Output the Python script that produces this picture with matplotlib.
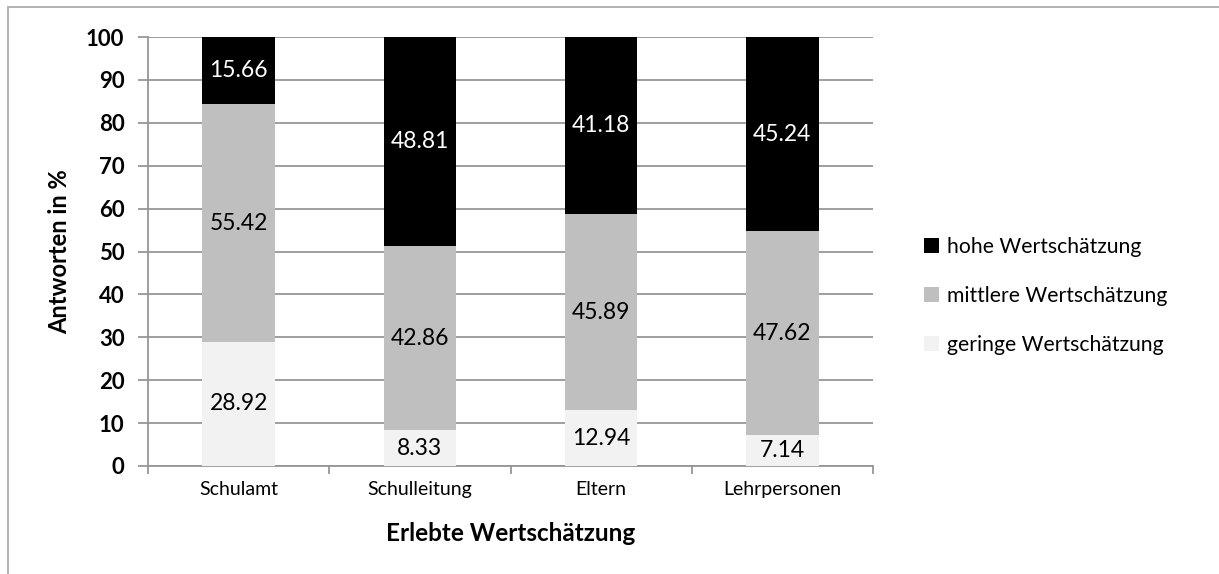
import numpy as np
import matplotlib
matplotlib.use("Agg")
import matplotlib.pyplot as plt
from matplotlib.patches import Rectangle

categories = ["Schulamt", "Schulleitung", "Eltern", "Lehrpersonen"]
gering = [28.92, 8.33, 12.94, 7.14]
mittel = [55.42, 42.86, 45.89, 47.62]
hoch = [15.66, 48.81, 41.18, 45.24]
series_names = ["geringe Wertschätzung", "mittlere Wertschätzung", "hohe Wertschätzung"]
yticks = [0, 10, 20, 30, 40, 50, 60, 70, 80, 90, 100]

plt.rcParams["font.family"] = ["Lato", "DejaVu Sans"]

W, H = 1219, 574
fig = plt.figure(figsize=(W / 100, H / 100), dpi=100)
ax = fig.add_axes([148 / W, 1 - 466 / H, (873 - 148) / W, (466 - 37) / H])

# outer chart frame (only top and left edges are visible in the crop)
fig.patches.append(Rectangle((8 / W, -0.2), 1.5, 1.2 - 7 / H, transform=fig.transFigure,
                             fill=False, edgecolor="#ababab", linewidth=1.3))

x = np.arange(len(categories))
colors = ["#f2f2f2", "#bfbfbf", "#000000"]
text_colors = ["black", "black", "white"]
width = 0.40

bottom = np.zeros(len(categories))
handles = []
for vals, name, c, tc in zip([gering, mittel, hoch], series_names, colors, text_colors):
    vals = np.array(vals)
    b = ax.bar(x, vals, width, bottom=bottom, color=c, label=name, zorder=3)
    handles.append(b)
    for xi, v, b0 in zip(x, vals, bottom):
        ax.text(xi, b0 + v / 2, f"{v:.2f}", ha="center", va="center",
                color=tc, fontsize=16.5, zorder=4)
    bottom = bottom + vals

ax.set_xlim(-0.5, len(categories) - 0.5)
ax.set_ylim(0, 100)
ax.set_yticks(yticks)
ax.set_yticklabels([str(t) for t in yticks], fontsize=16, fontweight="bold")
ax.set_xticks(x)
ax.set_xticklabels(categories, fontsize=14)
ax.set_xticks(np.arange(-0.5, len(categories), 1.0), minor=True)
ax.tick_params(axis="x", which="major", length=0, pad=11)
ax.tick_params(axis="x", which="minor", length=6, width=1.3, color="#969696")
ax.tick_params(axis="y", length=7, width=1.3, color="#969696", pad=10)

ax.yaxis.grid(True, color="#969696", linewidth=1.3, zorder=0)
ax.set_axisbelow(True)
for s in ["top", "right"]:
    ax.spines[s].set_visible(False)
for s in ["left", "bottom"]:
    ax.spines[s].set_color("#969696")
    ax.spines[s].set_linewidth(1.3)

ax.set_ylabel("Antworten in %", fontsize=17, fontweight="bold", labelpad=11)
ax.set_xlabel("Erlebte Wertschätzung", fontsize=17.5, fontweight="bold", labelpad=17)

fig.legend(handles[::-1], series_names[::-1], loc="center left",
           bbox_to_anchor=(905 / W, 1 - 296 / H), frameon=False, fontsize=15.2,
           handlelength=0.7, handleheight=0.7, handletextpad=0.4, labelspacing=1.38)

fig.savefig("out.png", dpi=100, facecolor="white")
